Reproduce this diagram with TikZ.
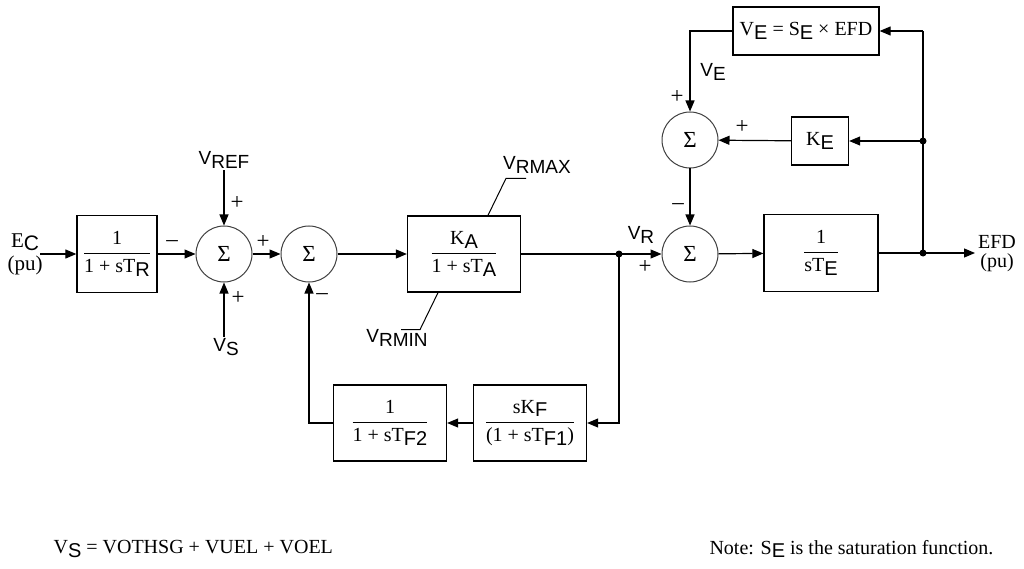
\documentclass[tikz,border=0pt]{standalone}
\usepackage{amsmath}
\usepackage{fontspec}
\setmainfont{Liberation Serif}
\setsansfont{Liberation Sans}
\usetikzlibrary{arrows.meta}
\newcommand\sbs[1]{\raisebox{-0.4ex}{\sffamily #1}}
\newcommand\frc[2]{$\dfrac{\text{#1}}{\text{#2}}$}
\begin{document}
\begin{tikzpicture}[
    x=1pt, y=-1pt,
    font=\fontsize{20}{22}\selectfont,
    line width=1.2pt,
    blk/.style={draw, line width=1.3pt, inner sep=0pt, minimum width=113, minimum height=76},
    sumnode/.style={circle, draw=black!75, line width=1pt, minimum size=56, inner sep=0pt, font=\fontsize{23}{23}\selectfont},
    lbl/.style={inner sep=1pt, align=center},
    vlbl/.style={inner sep=1pt, font=\sffamily\fontsize{19}{19}\selectfont},
    sgn/.style={inner sep=0pt, font=\fontsize{23}{23}\selectfont},
    arr/.style={-{Triangle[length=11pt,width=9pt]}},
    jdot/.style={circle, fill, inner sep=0pt, minimum size=7}
    ]
	\useasboundingbox (0,0) rectangle (1024,569);
	\node [lbl, font=\fontsize{21}{23}\selectfont] (ec) at (25,254) {E\sbs{C}\\(pu)};
	\coordinate (ecin) at (40,254);
	\node [blk, minimum width=80, minimum height=77] (tr) at (117,254) {\frc{1}{1 + sT\sbs{R}}};
	\node [sumnode] (s1) at (224,254) {Σ};
	\node [vlbl] (vref) at (224,160) {V\sbs{REF}};
	\node [vlbl] (vs) at (226,347) {V\sbs{S}};
	\node [sumnode] (s2) at (309,254) {Σ};
	\node [blk] (ka) at (464,254) {\frc{K\sbs{A}}{1 + sT\sbs{A}}};
	\node [vlbl] (vrmax) at (537,165) {V\sbs{RMAX}};
	\node [vlbl] (vrmin) at (397,338) {V\sbs{RMIN}};
	\coordinate (j1) at (619,254);
	\node [sumnode] (s3) at (690,254) {Σ};
	\node [sumnode] (s4) at (690,140) {Σ};
	\node [blk, minimum width=146, minimum height=48] (ve) at (806,31) {V\sbs{E} = S\sbs{E} × EFD};
	\node [blk, minimum width=57, minimum height=48] (ke) at (820,141) {K\sbs{E}};
	\node [blk, minimum width=114, minimum height=77] (te) at (821,253) {\frc{1}{sT\sbs{E}}};
	\coordinate (j2) at (923,253);
	\coordinate (j3) at (923,141);
	\coordinate (j4) at (923,31);
	\coordinate (efdout) at (975,253);
	\node [lbl, font=\fontsize{20}{19}\selectfont] (efd) at (997,254) {EFD\\(pu)};
	\node [blk] (kf) at (530,423) {\frc{sK\sbs{F}}{(1 + sT\sbs{F1})}};
	\node [blk] (tf) at (390,423) {\frc{1}{1 + sT\sbs{F2}}};
	\node [vlbl] (vr) at (641,235) {V\sbs{R}};
	\node [vlbl] (vel) at (713,72) {V\sbs{E}};
	\node [sgn] at (172,244) {–};
	\node [sgn] at (237,203) {+};
	\node [sgn] at (238,298) {+};
	\node [sgn] at (263,242) {+};
	\node [sgn] at (322,297) {–};
	\node [sgn] at (645,267) {+};
	\node [sgn] at (678,207) {–};
	\node [sgn] at (677,97) {+};
	\node [sgn] at (742,127) {+};
	\draw [arr] (ecin) -- (tr);
	\draw [arr] (tr) -- (s1);
	\draw [arr] (vref.south -| s1.north) -- (s1.north);
	\draw [arr] (vs.north -| s1.south) -- (s1.south);
	\draw [arr] (s1) -- (s2);
	\draw [arr] (s2) -- (ka);
	\draw [line width=1pt] ([xshift=24]ka.north) -- ++(18,-37) -- ++(20,0);
	\draw [line width=1pt] ([xshift=-26]ka.south) -- ++(-18,37) -- ++(-19,0);
	\draw (ka) -- (j1);
	\draw [arr] (j1) -- (s3);
	\draw [arr] (j1) |- (kf.east);
	\draw [arr] (kf) -- (tf);
	\draw [arr] (tf.west) -| (s2.south);
	\draw [arr] (s3) -- (te);
	\draw (te) -- (j2);
	\draw [arr] (j2) -- (efdout);
	\draw (j2) -- (j4);
	\draw [arr] (j4) -- (ve.east);
	\draw [arr] (j3) -- (ke.east);
	\draw [arr] (ke) -- (s4);
	\draw [arr] (ve.west) -| (s4.north);
	\draw [arr] (s4) -- (s3);
	\node [jdot] at (j1) {};
	\node [jdot] at (j2) {};
	\node [jdot] at (j3) {};
	\node [lbl, anchor=west, font=\fontsize{20}{20}\selectfont] (vsdef) at (52,549) {V\sbs{S} = VOTHSG + VUEL + VOEL};
	\node [lbl, anchor=east, font=\fontsize{20}{20}\selectfont] (note) at (995,549) {Note: S\sbs{E} is the saturation function.};
\end{tikzpicture}
\end{document}
